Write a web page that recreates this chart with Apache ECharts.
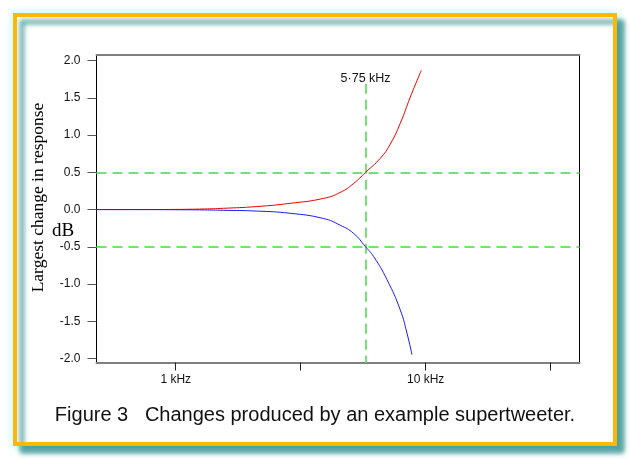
<!DOCTYPE html>
<html><head><meta charset="utf-8">
<script src="https://cdn.jsdelivr.net/npm/echarts@6/dist/echarts.min.js"></script>
<style>html,body{margin:0;padding:0;background:#fff}#c{width:630px;height:459px}</style>
</head><body><div id="c"></div>
<script>
// Frequencies in kHz, changes in dB
const redFreq  = [0.48, 0.7, 1.0, 1.3, 1.55, 2.1, 2.87, 3.9, 4.55, 5.15, 5.75, 6.59, 7.22, 7.92, 8.68, 9.61];
const redDb    = [0.0, 0.0, 0.002, 0.008, 0.017, 0.04, 0.084, 0.15, 0.23, 0.35, 0.5, 0.69, 0.88, 1.16, 1.51, 1.87];
const blueFreq = [0.48, 0.7, 1.0, 1.3, 1.55, 2.1, 2.87, 3.9, 4.55, 5.15, 5.75, 6.19, 7.0, 7.92, 8.42, 8.82];
const blueDb   = [0.0, 0.0, -0.002, -0.005, -0.01, -0.02, -0.05, -0.12, -0.21, -0.32, -0.5, -0.63, -0.94, -1.35, -1.66, -1.95];
const xTickValues  = [1, 3.1623, 10, 31.623];
const xLabelValues = [1, 10];
const yTickValues  = [-2.0, -1.5, -1.0, -0.5, 0.0, 0.5, 1.0, 1.5, 2.0];
const refFreq = 5.75;
const refLevels = [0.5, -0.5];
const refLabel = '5\u00b775 kHz';
const figTitle = 'Figure 3   Changes produced by an example supertweeter.';
const yTitle = 'Largest change in response';
const yUnit = 'dB';

const xMin = 0.4818, xMax = 41.28, yMin = -2.054, yMax = 2.076;
const green = '#78e078';

const chart = echarts.init(document.getElementById('c'), null, {renderer: 'canvas'});
chart.setOption({
  animation: false,
  backgroundColor: '#fff',
  title: {
    text: figTitle, left: 'center', top: 400,
    textStyle: {fontFamily: 'Liberation Sans', fontSize: 20, fontWeight: 'normal', color: '#111'}
  },
  graphic: [
    {type: 'rect', z: -20, shape: {x: 15, y: 15, width: 600, height: 429},
     style: {fill: '#fff', stroke: '#cffcfc', lineWidth: 4, shadowBlur: 8, shadowColor: 'rgba(170,255,255,0.9)'}},
    {type: 'rect', z: -10, shape: {x: 15, y: 15, width: 600, height: 429},
     style: {fill: '#fff', stroke: '#ffb700', lineWidth: 4, shadowBlur: 5, shadowOffsetX: 7, shadowOffsetY: 7, shadowColor: 'rgba(60,150,150,0.9)'}},
    {type: 'text', x: 38, y: 197.5, rotation: Math.PI / 2,
     style: {text: yTitle, font: '17.5px "Liberation Serif"', fill: '#000', align: 'center', verticalAlign: 'middle'}},
    {type: 'text', x: 63, y: 231,
     style: {text: yUnit, font: '19px "Liberation Serif"', fill: '#000', align: 'center', verticalAlign: 'middle'}}
  ],
  grid: {left: 96.5, top: 55, right: 50.5, bottom: 96.5, show: true, borderColor: '#000', borderWidth: 1, backgroundColor: '#fff'},
  xAxis: [{
    type: 'log', logBase: 10, min: xMin, max: xMax, position: 'bottom',
    axisLine: {show: true, onZero: false, lineStyle: {color: '#808080', width: 2}},
    axisTick: {show: true, length: 8, customValues: xTickValues, lineStyle: {color: '#222', width: 1}},
    axisLabel: {customValues: xLabelValues, formatter: v => v + ' kHz', margin: 11, fontSize: 12, fontFamily: 'Liberation Sans', color: '#111'},
    splitLine: {show: false}, minorTick: {show: false}
  }, {
    type: 'log', logBase: 10, min: xMin, max: xMax, position: 'top',
    axisLine: {show: true, onZero: false, lineStyle: {color: '#808080', width: 2}},
    axisTick: {show: false}, axisLabel: {show: false}, splitLine: {show: false}
  }],
  yAxis: {
    type: 'value', min: yMin, max: yMax,
    axisLine: {show: true, onZero: false, lineStyle: {color: '#000', width: 1}},
    axisTick: {show: true, length: 9, customValues: yTickValues, lineStyle: {color: '#555', width: 1}},
    axisLabel: {customValues: yTickValues, formatter: v => v.toFixed(1), margin: 16, fontSize: 12, fontFamily: 'Liberation Sans', color: '#111'},
    splitLine: {show: false}
  },
  series: [
    {
      type: 'line', name: 'up', xAxisIndex: 0, showSymbol: false, smooth: 0.5,
      data: redFreq.map((f, i) => [f, redDb[i]]),
      lineStyle: {color: '#e80000', width: 1}, z: 3,
      markLine: {
        silent: true, symbol: ['none', 'none'], z: 2,
        lineStyle: {color: green, width: 2, type: [10, 6]},
        label: {show: false},
        data: [
          ...refLevels.map(v => ({yAxis: v})),
          [{coord: [refFreq, 1.69]}, {coord: [refFreq, yMin]}]
        ]
      },
      markPoint: {
        symbol: 'circle', symbolSize: 0,
        label: {show: true, formatter: refLabel, color: '#111', fontSize: 12.5, fontFamily: 'Liberation Sans', position: 'inside'},
        data: [{coord: [refFreq, 1.765]}]
      }
    },
    {
      type: 'line', name: 'down', xAxisIndex: 0, showSymbol: false, smooth: 0.5,
      data: blueFreq.map((f, i) => [f, blueDb[i]]),
      lineStyle: {color: '#1a1aff', width: 1}, z: 3
    }
  ]
});
</script></body></html>
